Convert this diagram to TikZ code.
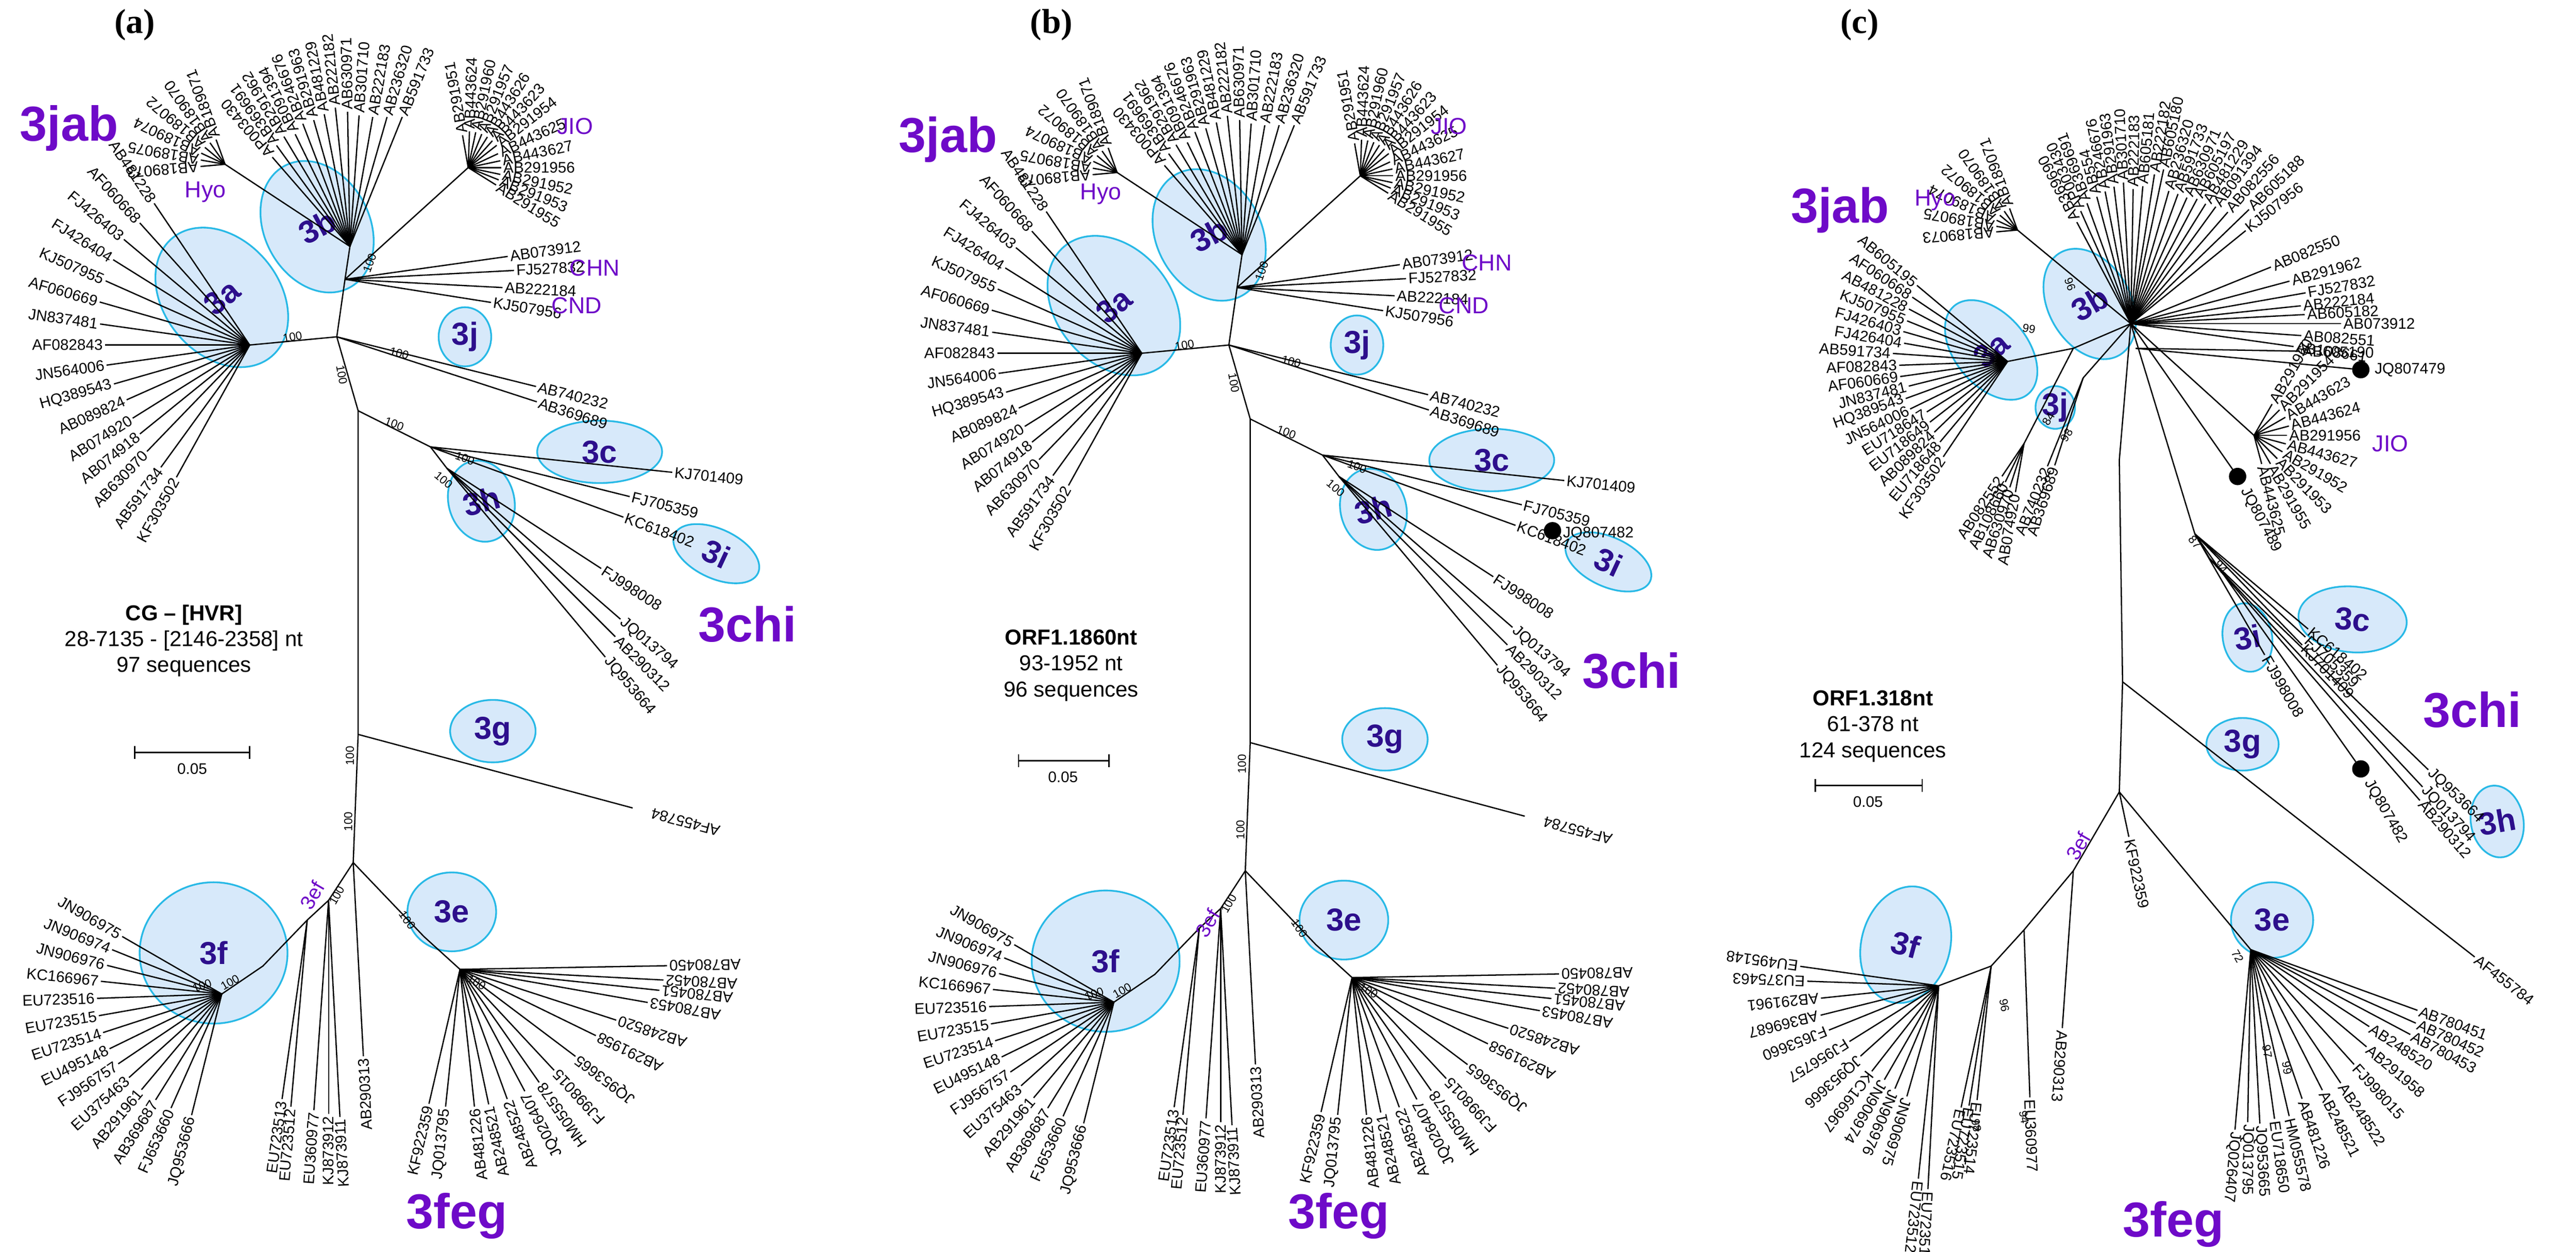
\documentclass[tikz,border=0pt]{standalone}
\usepackage{fontspec}
\setmainfont{Liberation Sans}
\newfontfamily\serifb{Liberation Serif}
\usetikzlibrary{shapes.geometric}
\definecolor{purpT}{RGB}{110,10,200}
\definecolor{cladeC}{RGB}{45,15,140}
\definecolor{ellF}{RGB}{215,233,250}
\definecolor{ellD}{RGB}{40,185,230}
\tikzset{
 br/.style={line width=0.45pt,black},
 lf/.style={font=\fontsize{5.3}{5.3}\selectfont,inner sep=0.6pt},
 bs/.style={font=\fontsize{4}{4}\selectfont,inner sep=0pt},
 ell/.style={ellipse,draw=ellD,fill=ellF,line width=0.6pt,inner sep=0pt},
 cl/.style={font=\fontsize{11}{11}\selectfont\bfseries,text=cladeC},
 big/.style={font=\fontsize{17}{17}\selectfont\bfseries,text=purpT},
 grp/.style={font=\fontsize{8}{8}\selectfont,text=purpT},
 info/.style={font=\fontsize{7.5}{9}\selectfont,align=center},
 pan/.style={font=\serifb\fontsize{12}{12}\selectfont\bfseries},
 dot/.style={circle,fill=black,inner sep=0pt,minimum size=6pt}
}
\newcommand\lfR[4]{\draw[br] (#1) -- ++(#2:#3) node[lf,anchor=west,rotate=#2]{#4};}
\newcommand\lfL[4]{\draw[br] (#1) -- ++(#2:#3) node[lf,anchor=east,rotate=#2+180]{#4};}
\newcommand\ellip[6]{\node[ell,minimum width=#3*0.02cm,minimum height=#4*0.02cm,rotate=#5] (#1) at (#2) {}; \node[cl,rotate=#5] at (#1) {#6};}
\newcommand\treeAB[1]{
 \coordinate (#1hub) at (210,-170);
 \coordinate (#1fan) at (213,-150);
 \coordinate (#1hyo) at (137,-100);
 \coordinate (#1jio) at (285,-102);
 \coordinate (#1j1) at (205,-205);
 \coordinate (#1a3) at (152,-210);
 \coordinate (#1j2) at (218,-250);
 \coordinate (#1c0) at (262,-272);
 \coordinate (#1h0) at (272,-285);
 \coordinate (#1j3) at (218,-447);
 \coordinate (#1j4) at (215,-525);
 \coordinate (#1ef1) at (200,-548);
 \coordinate (#1ef2) at (187,-560);
 \coordinate (#1ef3) at (160,-588);
 \coordinate (#1f0) at (135,-605);
 \coordinate (#1e1) at (258,-570);
 \coordinate (#1e2) at (280,-590);
 \ellip{#1E3b}{193,-138}{64}{84}{28}{3b}
 \ellip{#1E3a}{135,-181}{70}{94}{40}{3a}
 \ellip{#1E3j}{283,-205}{32}{36}{0}{3j}
 \ellip{#1E3c}{365,-275}{76}{38}{0}{3c}
 \ellip{#1E3h}{293,-305}{40}{50}{15}{3h}
 \ellip{#1E3i}{436,-337}{56}{30}{-25}{3i}
 \ellip{#1E3g}{300,-445}{52}{38}{0}{3g}
 \ellip{#1E3f}{130,-580}{90}{86}{0}{3f}
 \ellip{#1E3e}{275,-555}{54}{48}{0}{3e}
 \draw[br] (#1fan) -- (#1hub) -- (#1j1) -- (#1j2) -- (#1j3) -- (#1j4);
 \draw[br] (#1hub) -- (#1jio);
 \draw[br] (#1fan) -- (#1hyo);
 \draw[br] (#1j1) -- (#1a3);
 \draw[br] (#1j2) -- (#1c0) -- (#1h0);
 \draw[br] (#1j4) -- (#1ef1) -- (#1ef2) -- (#1ef3) -- (#1f0);
 \draw[br] (#1j4) -- (#1e1) -- (#1e2);
 \foreach \a/\l/\t in {131/72/AP003430,126/76/AB369691,121/78/AB291962,116/76/AB091394,111/80/AB246676,106/80/AB291963,101/82/AB481229,96/85/AB222182,91/82/AB630971,86/80/AB301710,80/80/AB222183,74/82/AB236320,68/85/AB591733}{\lfR{#1fan}{\a}{\l}{\t}}
 \foreach \a/\l/\t in {110/16/AB189071,125/16/AB189070,140/16/AB189072,155/16/AB189074,170/15/AB189075,185/15/AB189073}{\lfR{#1hyo}{\a}{\l}{\t}}
 \foreach \a/\l/\t in {100/20/AB291951,88/22/AB443624,78/22/AB291960,68/22/AB291957,58/22/AB443626,48/22/AB443623,38/22/AB291954,25/20/AB443625,12/20/AB443627,0/20/AB291956,-12/20/AB291952,-22/20/AB291953,-32/20/AB291955}{\lfR{#1jio}{\a}{\l}{\t}}
 \foreach \a/\l/\t in {8/100/AB073912,3/103/FJ527832,-3/96/AB222184,-9/90/KJ507956}{\lfR{#1hub}{\a}{\l}{\t}}
 \foreach \a/\l/\t in {124/104/AB481228,132/100/AF060668,140/100/FJ426403,148/98/FJ426404,156/96/KJ507955,164/95/AF060669,172/92/JN837481,180/88/AF082843,188/88/JN564006,196/86/HQ389543,204/82/AB089824,212/84/AB074920,219/86/AB074918,226/90/AB630970,234/92/AB591734,241/92/KF303502}{\lfL{#1a3}{\a}{\l}{\t}}
 \foreach \a/\l/\t in {-14/125/AB740232,-18/128/AB369689}{\lfR{#1j1}{\a}{\l}{\t}}
 \foreach \a/\l/\t in {-6/148/KJ701409,-14/125/FJ705359,-20/125/KC618402}{\lfR{#1c0}{\a}{\l}{\t}}
 \foreach \a/\l/\t in {-33/112/FJ998008,-41/140/JQ013794,-45/145/AB290312,-50/150/JQ953664}{\lfR{#1h0}{\a}{\l}{\t}}
 \draw[br] (#1j3) -- ++(-15:173) node[lf,anchor=east,rotate=165,xshift=-6pt] {AF455784};
 \foreach \a/\l/\t in {150/70/JN906975,158/72/JN906974,166/72/JN906976,174/74/KC166967,182/76/EU723516,190/76/EU723515,198/76/EU723514,206/76/EU495148,214/76/FJ956757,222/76/EU375463,230/76/AB291961,238/76/AB369687,246/76/FJ653660,256/76/JQ953666}{\lfL{#1f0}{\a}{\l}{\t}}
 \foreach \a/\l/\t in {262/110/EU723513,265/114/EU723512}{\lfL{#1ef2}{\a}{\l}{\t}}
 \foreach \a/\l/\t in {266/128/EU360977,270/130/KJ873912,273/132/KJ873911}{\lfL{#1ef1}{\a}{\l}{\t}}
 \lfL{#1j4}{273}{118}{AB290313}
 \foreach \a/\l/\t in {257/84/KF922359,264/84/JQ013795,276/84/AB481226,282/84/AB248521,290/84/AB248522,298/84/JQ026407,305/84/HM055578,313/84/FJ998015,323/88/JQ953665,334/92/AB291958,342/100/AB248520,350/116/AB780453,354/122/AB780451,357/124/AB780452,1/126/AB780450}{\lfL{#1e2}{\a}{\l}{\t}}
 \foreach \p/\r in {{208,-228}/-80,{213,-460}/90,{212,-500}/90,{243,-215}/-15,{240,-258}/-20,{283,-279}/-20,{270,-292}/-40,{178,-205}/10,{205,-545}/60,{248,-560}/-55,{123,-600}/20,{140,-598}/30,{290,-598}/-30,{225,-160}/70}{\node[bs,rotate=\r] at (\p) {100};}
}
\begin{document}
\begin{tikzpicture}[x=0.02cm,y=0.02cm]
\fill[white] (0,0) rectangle (1568,-762);
\useasboundingbox (0,0) rectangle (1568,-762);
% ---------- panel a
\treeAB{a}
\node[pan] at (82,-15) {(a)};
\node[big] at (42,-78) {3jab};
\node[big] at (455,-380) {3chi};
\node[big] at (278,-740) {3feg};
\node[grp] at (125,-117) {Hyo};
\node[grp] at (350,-77) {JIO};
\node[grp] at (362,-163) {CHN};
\node[grp] at (351,-186) {CND};
\node[grp,font=\fontsize{7}{7}\selectfont,rotate=60] at (190,-545) {3ef};
\node[info] at (112,-390) {\textbf{CG – [HVR]}\\28-7135 - [2146-2358] nt\\97 sequences};
\coordinate (sa1) at (82,-458); \coordinate (sa2) at (152,-458);
\draw[br] (sa1) -- (sa2); \draw[br] (82,-454) -- (82,-462); \draw[br] (152,-454) -- (152,-462);
\node[lf] at (117,-468) {0.05};
% ---------- panel b
\begin{scope}[shift={(543,-5)}]
\treeAB{b}
\node[dot] (bdot) at (402,-318) {};
\node[lf,anchor=west] at (407,-320) {JQ807482};
\end{scope}
\node[pan] at (640,-15) {(b)};
\node[big] at (577,-85) {3jab};
\node[big] at (993,-408) {3chi};
\node[big] at (815,-740) {3feg};
\node[grp] at (670,-118) {Hyo};
\node[grp] at (882,-77) {JIO};
\node[grp] at (905,-160) {CHN};
\node[grp] at (891,-186) {CND};
\node[grp,font=\fontsize{7}{7}\selectfont,rotate=60] at (735,-562) {3ef};
\node[info] at (652,-405) {\textbf{ORF1.1860nt}\\93-1952 nt\\96 sequences};
\coordinate (sb1) at (620,-463); \coordinate (sb2) at (675,-463);
\draw[br] (sb1) -- (sb2); \draw[br] (620,-459) -- (620,-467); \draw[br] (675,-459) -- (675,-467);
\node[lf] at (647,-473) {0.05};
% ---------- panel c
\coordinate (cH) at (1297,-197);
\coordinate (cHyo) at (1228,-140);
\coordinate (cJio) at (1372,-265);
\coordinate (cA0) at (1262,-212);
\coordinate (cA) at (1222,-220);
\coordinate (cA2) at (1232,-270);
\coordinate (cJ) at (1268,-230);
\coordinate (cT1) at (1290,-280);
\coordinate (cT2) at (1292,-415);
\coordinate (cT3) at (1290,-482);
\coordinate (cS) at (1336,-325);
\coordinate (cS2) at (1345,-340);
\coordinate (cE1) at (1262,-530);
\coordinate (cE2) at (1232,-566);
\coordinate (cE3) at (1212,-588);
\coordinate (cF) at (1180,-600);
\coordinate (cEe) at (1370,-578);
\coordinate (cR) at (1300,-212);
\ellip{cE3b}{1272,-185}{50}{72}{30}{3b}
\ellip{cE3a}{1212,-213}{44}{70}{40}{3a}
\ellip{cE3j}{1251,-248}{24}{26}{0}{3j}
\ellip{cE3c}{1432,-377}{66}{40}{-5}{3c}
\ellip{cE3i}{1368,-388}{30}{42}{10}{3i}
\ellip{cE3h}{1520,-500}{32}{44}{10}{3h}
\ellip{cE3g}{1365,-453}{44}{32}{0}{3g}
\ellip{cE3f}{1160,-575}{54}{72}{-15}{3f}
\ellip{cE3e}{1383,-560}{50}{46}{0}{3e}
\draw[br] (cH) -- (cHyo);
\draw[br] (cH) -- (cJio);
\draw[br] (cH) -- (cA0) -- (cA);
\draw[br] (cA0) -- (cA2);
\draw[br] (cH) -- (cJ);
\draw[br] (cH) -- (cT1) -- (cT2) -- (cT3);
\draw[br] (cH) -- (cS) -- (cS2);
\draw[br] (cT3) -- (cE1) -- (cE2) -- (cE3) -- (cF);
\draw[br] (cT3) -- (cEe);
\foreach \a/\l/\t in {110/14/AB189071,125/14/AB189070,140/14/AB189072,155/14/AB189074,170/13/AB189075,185/13/AB189073}{\lfR{cHyo}{\a}{\l}{\t}}
\foreach \a/\l/\t in {118/70/AB369690,114/75/AP003430,110/78/AB369691,105/80/AB554,101/82/AB246676,97/84/AB291963,93/86/AB301710,89/82/AB222183,85/84/AB605181,81/92/AB222182,78/96/AB605180,74/84/AB236320,70/84/AB591733,66/84/AB630971,62/86/AB605197,58/86/AB481229,54/88/AB091394,49/90/AB082556,44/100/AB605188,39/90/KJ507956}{\lfR{cH}{\a}{\l}{\t}}
\foreach \a/\l/\t in {22/92/AB082550,15/100/AB291962,10/108/FJ527832,6/104/AB222184,3/106/AB605182,0/128/AB073912,-4/104/AB082551,-8/100/AB108661}{\lfR{cH}{\a}{\l}{\t}}
\lfR{cR}{-1}{100}{AB605190}
\draw[br] (cR) -- (1437,-225) node[dot] (cd1) {} node[lf,anchor=west,xshift=4pt] {JQ807479};
\foreach \a/\l/\t in {60/22/AB291960,45/22/AB291954,30/22/AB443623,15/22/AB443624,0/20/AB291956,-15/20/AB443627,-30/20/AB291952,-45/20/AB291953,-60/20/AB291955,-75/18/AB443625}{\lfR{cJio}{\a}{\l}{\t}}
\draw[br] (cH) -- (1362,-290) node[dot] (cd2) {} node[lf,anchor=west,rotate=-62,xshift=4pt] {JQ807489};
\foreach \a/\l/\t in {140/72/AB605195,146/70/AF060668,152/68/AB481228,158/66/KJ507955,164/66/FJ426403,170/64/FJ426404,176/70/AB591734,182/66/AF082843,188/66/AF060669,194/62/JN837481,200/66/HQ389543,206/66/JN564006,212/58/EU718647,218/60/EU718649,224/62/AB089824,230/64/EU718648,236/70/KF303502}{\lfL{cA}{\a}{\l}{\t}}
\foreach \a/\l/\t in {236/24/AB082552,244/26/AB108660,252/28/AB630970,260/30/AB074920}{\lfL{cA2}{\a}{\l}{\t}}
\foreach \a/\l/\t in {248/58/AB740232,252/56/AB369689}{\lfL{cJ}{\a}{\l}{\t}}
\foreach \a/\l/\t in {-40/90/KC618402,-43/92/FJ705359,-46/94/KJ701409,-60/85/FJ998008}{\lfR{cS}{\a}{\l}{\t}}
\foreach \a/\l/\t in {-44/185/JQ953664,-47/190/JQ013794,-49/195/AB290312}{\lfR{cS2}{\a}{\l}{\t}}
\draw[br] (cS) -- (1437,-468) node[dot] (cd3) {} node[lf,anchor=west,rotate=-60,xshift=4pt] {JQ807482};
\lfR{cT2}{-38}{272}{AF455784}
\lfR{cT3}{-78}{28}{KF922359}
\lfR{cE1}{-94}{96}{AB290313}
\lfR{cE2}{-88}{102}{EU360977}
\foreach \a/\l/\t in {-96/82/EU723514,-99/86/EU723515,-102/88/EU723516}{\lfR{cE3}{\a}{\l}{\t}}
\foreach \a/\l/\t in {172/85/EU495148,178/80/EU375463,186/72/AB291961,194/74/AB369687,202/72/FJ653660,212/64/FJ956757,222/64/JQ953666,232/66/KC166967,240/66/JN906974,247/68/JN906976,254/70/JN906975,264/118/EU723512,267/124/EU723513}{\lfR{cF}{\a}{\l}{\t}}
\foreach \a/\l/\t in {-95/110/JQ026407,-91/105/JQ013795,-87/106/JQ953665,-82/104/EU718650,-77/104/HM055578,-71/96/AB481226,-63/96/AB248521,-56/98/AB248522,-48/94/FJ998015,-40/92/AB291958,-33/86/AB248520,-28/110/AB780453,-24/110/AB780452,-20/108/AB780451}{\lfR{cEe}{\a}{\l}{\t}}
\foreach \p/\r/\t in {{1336,-330}/-50/87,{1352,-345}/-50/94,{1362,-582}/-60/72,{1380,-640}/-80/97,{1392,-650}/-80/99,{1220,-612}/-80/96,{1232,-680}/-80/94,{1203,-685}/-80/98,{1247,-255}/60/84,{1258,-265}/60/98,{1260,-173}/-70/96,{1235,-200}/-10/99}{\node[bs,rotate=\r] at (\p) {\t};}
\node[pan] at (1132,-15) {(c)};
\node[big] at (1120,-128) {3jab};
\node[big] at (1505,-432) {3chi};
\node[big] at (1323,-745) {3feg};
\node[grp] at (1178,-122) {Hyo};
\node[grp] at (1455,-270) {JIO};
\node[grp,font=\fontsize{7}{7}\selectfont,rotate=60] at (1265,-515) {3ef};
\node[info] at (1140,-442) {\textbf{ORF1.318nt}\\61-378 nt\\124 sequences};
\coordinate (sc1) at (1105,-478); \coordinate (sc2) at (1170,-478);
\draw[br] (sc1) -- (sc2); \draw[br] (1105,-474) -- (1105,-482); \draw[br] (1170,-474) -- (1170,-482);
\node[lf] at (1137,-488) {0.05};
\end{tikzpicture}
\end{document}
